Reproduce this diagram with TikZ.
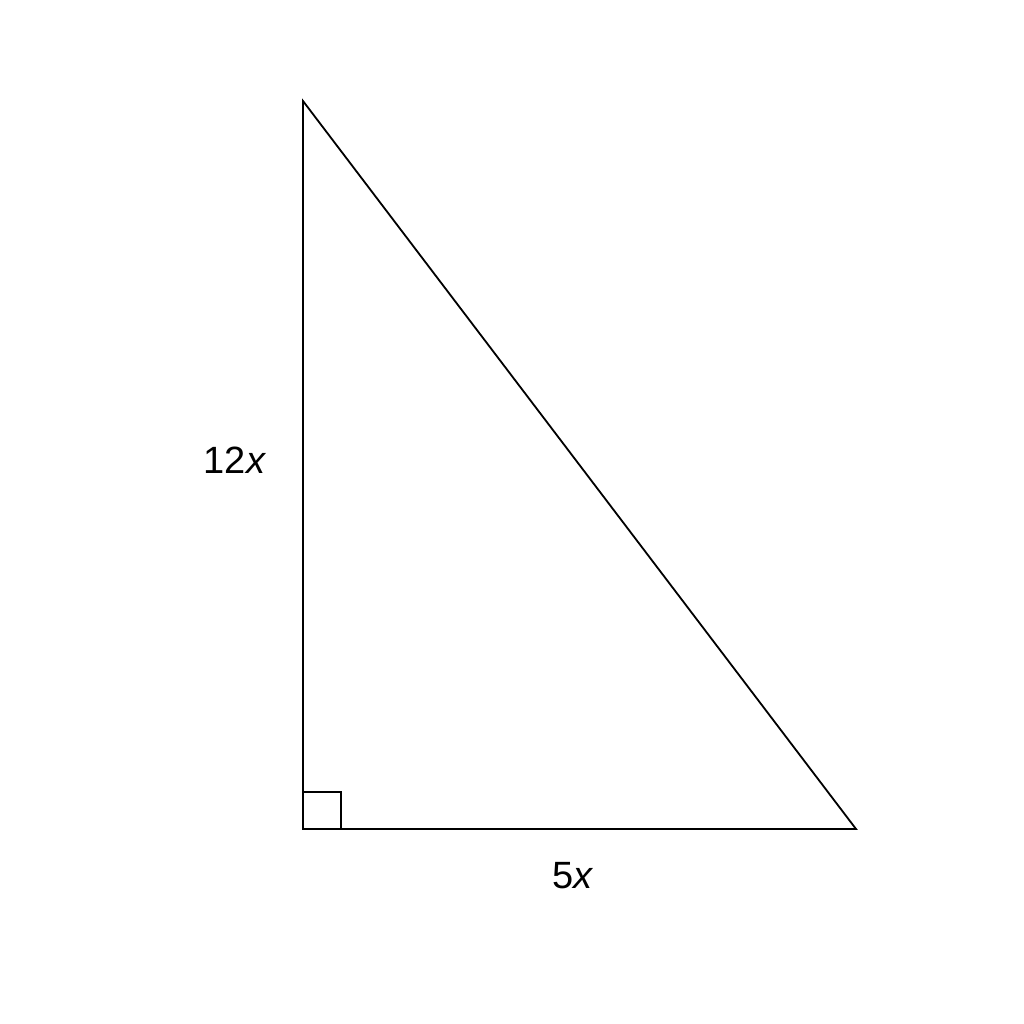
\documentclass[tikz,border=0pt]{standalone}
\usepackage{fontspec}
\setmainfont{Liberation Sans}
\begin{document}
\begin{tikzpicture}[x=1pt,y=-1pt,
  edge/.style={draw=black,line width=1.8pt,line join=miter},
  lbl/.style={font=\fontsize{38}{44}\selectfont,inner sep=0pt}]
\useasboundingbox (0,0) rectangle (1024,1024);
\coordinate (A) at (303,101);
\coordinate (C) at (303,829);
\coordinate (B) at (856,829);
\draw[edge] (A) -- (C) -- (B) -- cycle;
\draw[edge] (303,792) -- (341,792) -- (341,829);
\node[lbl] (l12) at (235,460) {12\textit{x}};
\node[lbl] (l5) at (573,876) {5\textit{x}};
\end{tikzpicture}
\end{document}
